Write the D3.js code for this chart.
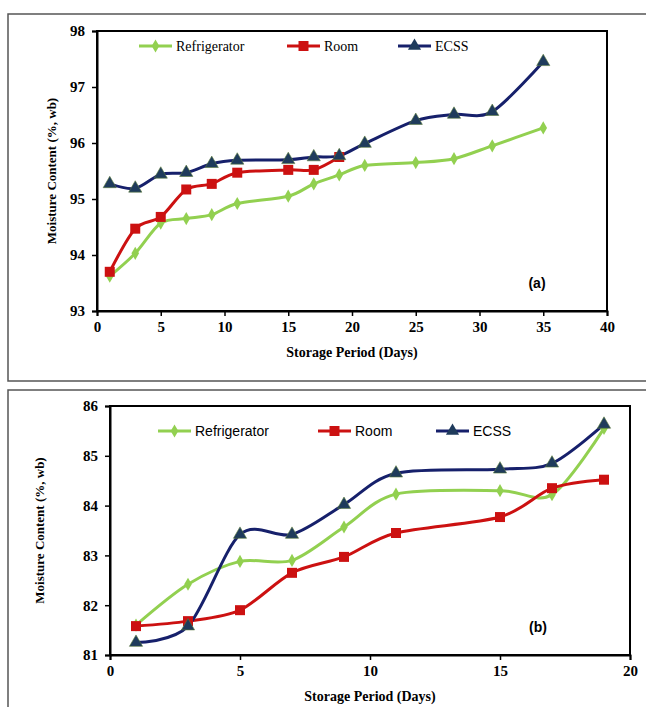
<!DOCTYPE html>
<html>
<head>
<meta charset="utf-8">
<script src="https://cdn.jsdelivr.net/npm/d3@7"></script>
<style>
  body { margin: 0; background: #fff; }
  svg { display: block; }
</style>
</head>
<body>
<div id="chart"></div>
<script>
// panel (a)
var daysA = [1, 3, 5, 7, 9, 11, 15, 17, 19, 21, 25, 28, 31, 35];
var fridgeA = [93.62, 94.03, 94.57, 94.65, 94.72, 94.92, 95.05, 95.27, 95.43, 95.6, 95.65, 95.72, 95.95, 96.27];
var roomDaysA = [1, 3, 5, 7, 9, 11, 15, 17, 19];
var roomA = [93.7, 94.47, 94.68, 95.17, 95.27, 95.47, 95.52, 95.52, 95.75];
var ecssA = [95.27, 95.19, 95.44, 95.47, 95.63, 95.69, 95.7, 95.75, 95.77, 95.99, 96.4, 96.51, 96.56, 97.45];
var xTicksA = [0, 5, 10, 15, 20, 25, 30, 35, 40];
var yTicksA = [93, 94, 95, 96, 97, 98];

// panel (b)
var daysB = [1, 3, 5, 7, 9, 11, 15, 17, 19];
var fridgeB = [81.6, 82.42, 82.88, 82.9, 83.57, 84.23, 84.3, 84.22, 85.55];
var roomB = [81.58, 81.68, 81.9, 82.65, 82.97, 83.45, 83.77, 84.35, 84.52];
var ecssB = [81.25, 81.58, 83.42, 83.42, 84.02, 84.65, 84.73, 84.85, 85.63];
var xTicksB = [0, 5, 10, 15, 20];
var yTicksB = [81, 82, 83, 84, 85, 86];

var seriesNames = ["Refrigerator", "Room", "ECSS"];
var lineColors = ["#92D050", "#CC1111", "#16206B"];
var markerColors = ["#92D050", "#CC1111", "#1F3B5C"];

var svg = d3.select("#chart").append("svg")
    .attr("width", 646)
    .attr("height", 707);

function zip(xs, ys) {
    return xs.map(function(x, i) { return [x, ys[i]]; });
}

function drawPanel(opt) {
    // outer frame
    svg.append("rect")
        .attr("x", opt.box[0]).attr("y", opt.box[1])
        .attr("width", opt.box[2]).attr("height", opt.box[3])
        .attr("fill", "none").attr("stroke", "#555").attr("stroke-width", 1.5);

    var x = d3.scaleLinear().domain(opt.xDomain).range([opt.left, opt.right]);
    var y = d3.scaleLinear().domain(opt.yDomain).range([opt.bottom, opt.top]);

    var g = svg.append("g");

    // plot frame
    g.append("rect")
        .attr("x", opt.left).attr("y", opt.top)
        .attr("width", opt.right - opt.left).attr("height", opt.bottom - opt.top)
        .attr("fill", "none").attr("stroke", "#000").attr("stroke-width", 2);

    var xAxis = g.append("g")
        .attr("transform", "translate(0," + opt.bottom + ")")
        .call(d3.axisBottom(x).tickValues(opt.xTicks).tickFormat(d3.format("d")).tickSize(5).tickPadding(5));
    var yAxis = g.append("g")
        .attr("transform", "translate(" + opt.left + ",0)")
        .call(d3.axisLeft(y).tickValues(opt.yTicks).tickFormat(d3.format("d")).tickSize(5).tickPadding(7));

    [xAxis, yAxis].forEach(function(a) {
        a.select(".domain").attr("stroke-width", 2);
        a.selectAll(".tick line").attr("stroke-width", 1.5);
        a.selectAll("text")
            .attr("font-family", "Liberation Serif, Times New Roman, serif")
            .attr("font-weight", "bold")
            .attr("font-size", 15)
            .attr("fill", "#000");
    });

    g.append("text")
        .attr("x", (opt.left + opt.right) / 2).attr("y", opt.bottom + 46)
        .attr("text-anchor", "middle")
        .attr("font-family", "Liberation Serif, Times New Roman, serif")
        .attr("font-weight", "bold").attr("font-size", 14)
        .text("Storage Period (Days)");

    g.append("text")
        .attr("transform", "translate(" + opt.yTitleX + "," + (opt.top + opt.bottom) / 2 + ") rotate(-90)")
        .attr("text-anchor", "middle")
        .attr("font-family", "Liberation Serif, Times New Roman, serif")
        .attr("font-weight", "bold").attr("font-size", 13)
        .text("Moisture Content (%, wb)");

    var line = d3.line()
        .x(function(d) { return x(d[0]); })
        .y(function(d) { return y(d[1]); })
        .curve(d3.curveCardinal.tension(0.1));

    var symbols = [d3.symbolDiamond, d3.symbolSquare, d3.symbolTriangle];
    var sizes = [50, 100, 75];

    opt.series.forEach(function(s, i) {
        g.append("path")
            .datum(s)
            .attr("fill", "none")
            .attr("stroke", lineColors[i])
            .attr("stroke-width", 3)
            .attr("d", line);
    });
    opt.series.forEach(function(s, i) {
        g.selectAll(".m" + i)
            .data(s)
            .enter().append("path")
            .attr("transform", function(d) { return "translate(" + x(d[0]) + "," + y(d[1]) + ")"; })
            .attr("d", d3.symbol().type(symbols[i]).size(sizes[i]))
            .attr("fill", markerColors[i])
            .attr("stroke", i === 2 ? "#5a7a3a" : "none")
            .attr("stroke-width", 0.6);
    });

    // legend
    opt.legend.forEach(function(lx, i) {
        var ly = opt.legendY;
        g.append("line")
            .attr("x1", lx).attr("x2", lx + 33)
            .attr("y1", ly).attr("y2", ly)
            .attr("stroke", lineColors[i]).attr("stroke-width", 3);
        g.append("path")
            .attr("transform", "translate(" + (lx + 16.5) + "," + ly + ")")
            .attr("d", d3.symbol().type(symbols[i]).size(sizes[i]))
            .attr("fill", markerColors[i]);
        g.append("text")
            .attr("x", lx + 37).attr("y", ly + 5)
            .attr("font-family", opt.legendFont)
            .attr("font-size", 14)
            .text(seriesNames[i]);
    });

    g.append("text")
        .attr("x", opt.label[0]).attr("y", opt.label[1])
        .attr("text-anchor", "middle")
        .attr("font-family", "Liberation Sans, Arial, sans-serif")
        .attr("font-weight", "bold").attr("font-size", 14)
        .text(opt.labelText);
}

drawPanel({
    box: [8, 14, 645, 367],
    left: 97, right: 607, top: 31, bottom: 311,
    xDomain: [0, 40], yDomain: [93, 98],
    xTicks: xTicksA, yTicks: yTicksA,
    yTitleX: 56,
    series: [zip(daysA, fridgeA), zip(roomDaysA, roomA), zip(daysA, ecssA)],
    legend: [139, 287, 398],
    legendY: 46,
    legendFont: "Liberation Serif, Times New Roman, serif",
    label: [537, 288], labelText: "(a)"
});

drawPanel({
    box: [8, 390, 645, 330],
    left: 110, right: 630, top: 406, bottom: 655,
    xDomain: [0, 20], yDomain: [81, 86],
    xTicks: xTicksB, yTicks: yTicksB,
    yTitleX: 44,
    series: [zip(daysB, fridgeB), zip(daysB, roomB), zip(daysB, ecssB)],
    legend: [158, 318, 436],
    legendY: 431,
    legendFont: "Liberation Sans, Arial, sans-serif",
    label: [538, 632], labelText: "(b)"
});
</script>
</body>
</html>
